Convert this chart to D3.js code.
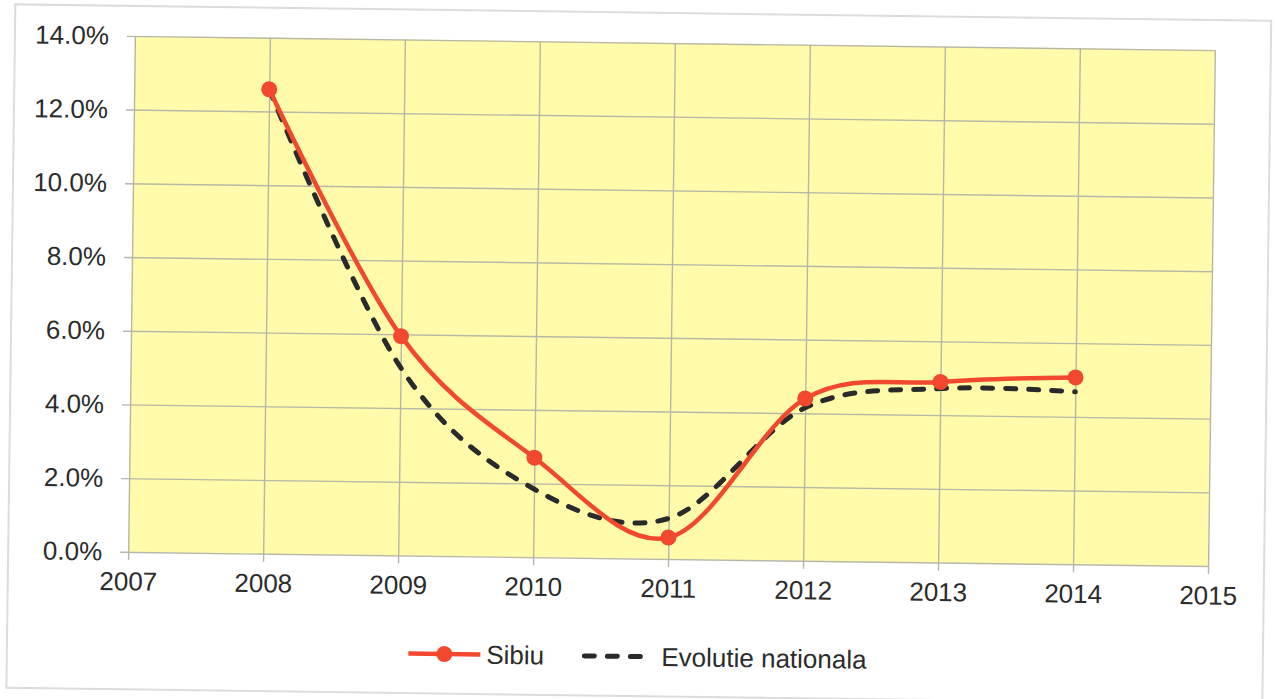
<!DOCTYPE html>
<html>
<head>
<meta charset="utf-8">
<script src="https://cdn.jsdelivr.net/npm/d3@7"></script>
<style>
  html, body { margin: 0; padding: 0; background: #fff; }
  svg { display: block; }
  text { font-family: "Liberation Sans", Arial, sans-serif; fill: #2b2b2b; }
</style>
</head>
<body>
<svg id="chart" width="1275" height="699"></svg>
<script>
// Growth rates by year (percent)
const years = [2008, 2009, 2010, 2011, 2012, 2013, 2014];
const sibiu = [12.6, 5.95, 2.7, 0.58, 4.4, 4.9, 5.07];
const national = [12.6, 5.1, 1.85, 1.1, 4.15, 4.72, 4.68];

const xTicks = [2007, 2008, 2009, 2010, 2011, 2012, 2013, 2014, 2015];
const yTicks = [0, 2, 4, 6, 8, 10, 12, 14];
const seriesNames = ["Sibiu", "Evolutie nationala"];

const plot = { left: 131.5, top: 43, right: 1211.5, bottom: 559 };

const svg = d3.select("#chart");
// the whole page sits slightly tilted
const root = svg.append("g").attr("transform", "rotate(0.75, 671.5, 301)");

// outer frame
root.append("rect")
  .attr("x", 11.5).attr("y", 13).attr("width", 1256).attr("height", 683.5)
  .attr("fill", "none").attr("stroke", "#dcdcdc").attr("stroke-width", 2);

const x = d3.scaleLinear().domain([2007, 2015]).range([plot.left, plot.right]);
const y = d3.scaleLinear().domain([0, 14]).range([plot.bottom, plot.top]);

// plot background
root.append("rect")
  .attr("x", plot.left).attr("y", plot.top)
  .attr("width", plot.right - plot.left).attr("height", plot.bottom - plot.top)
  .attr("fill", "#fffbab");

// horizontal grid + y axis ticks/labels
const yAxis = d3.axisLeft(y).tickValues(yTicks)
  .tickSize(0)
  .tickFormat(d => d3.format(".1f")(d) + "%");
const gy = root.append("g").attr("transform", `translate(${plot.left - 8},0)`)
  .call(yAxis);
gy.select(".domain").remove();
gy.selectAll(".tick line").attr("stroke", "#b8b6a6").attr("stroke-width", 1.4)
  .attr("x1", 0).attr("x2", plot.right - plot.left + 8);
gy.selectAll(".tick text").attr("x", -18).attr("font-size", 26)
  .attr("fill", "#2b2b2b").style("font-family", "Liberation Sans, Arial, sans-serif");

// vertical grid + x axis ticks/labels
const xAxis = d3.axisBottom(x).tickValues(xTicks)
  .tickSize(0).tickFormat(d3.format("d"));
const gx = root.append("g").attr("transform", `translate(0,${plot.bottom})`)
  .call(xAxis);
gx.select(".domain").remove();
gx.selectAll(".tick line").attr("stroke", "#b8b6a6").attr("stroke-width", 1.4)
  .attr("y1", -(plot.bottom - plot.top)).attr("y2", 8);
gx.selectAll(".tick text").attr("y", 20).attr("dy", "0.71em").attr("font-size", 26)
  .attr("fill", "#2b2b2b").style("font-family", "Liberation Sans, Arial, sans-serif");

const line = d3.line()
  .x((d, i) => x(years[i]))
  .y(d => y(d))
  .curve(d3.curveCardinal.tension(0));

// national trend (dashed)
root.append("path").datum(national)
  .attr("d", line).attr("fill", "none")
  .attr("stroke", "#2a2a2a").attr("stroke-width", 5)
  .attr("stroke-dasharray", "10,13").attr("stroke-linecap", "round");

// Sibiu series
root.append("path").datum(sibiu)
  .attr("d", line).attr("fill", "none")
  .attr("stroke", "#f2492e").attr("stroke-width", 4.5);

root.selectAll("circle.pt").data(sibiu).enter().append("circle")
  .attr("class", "pt")
  .attr("cx", (d, i) => x(years[i])).attr("cy", d => y(d))
  .attr("r", 8).attr("fill", "#f2492e");

// legend
const ly = 657;
const lg = root.append("g");
lg.append("line").attr("x1", 413).attr("x2", 485).attr("y1", ly).attr("y2", ly)
  .attr("stroke", "#f2492e").attr("stroke-width", 4.5);
lg.append("circle").attr("cx", 449).attr("cy", ly).attr("r", 8).attr("fill", "#f2492e");
lg.append("text").attr("x", 491).attr("y", ly).attr("dy", "0.35em")
  .attr("font-size", 26).text(seriesNames[0]);
lg.append("line").attr("x1", 589).attr("x2", 649).attr("y1", ly).attr("y2", ly)
  .attr("stroke", "#2a2a2a").attr("stroke-width", 5)
  .attr("stroke-dasharray", "10,13").attr("stroke-linecap", "round");
lg.append("text").attr("x", 666).attr("y", ly).attr("dy", "0.35em")
  .attr("font-size", 26).text(seriesNames[1]);
</script>
</body>
</html>
